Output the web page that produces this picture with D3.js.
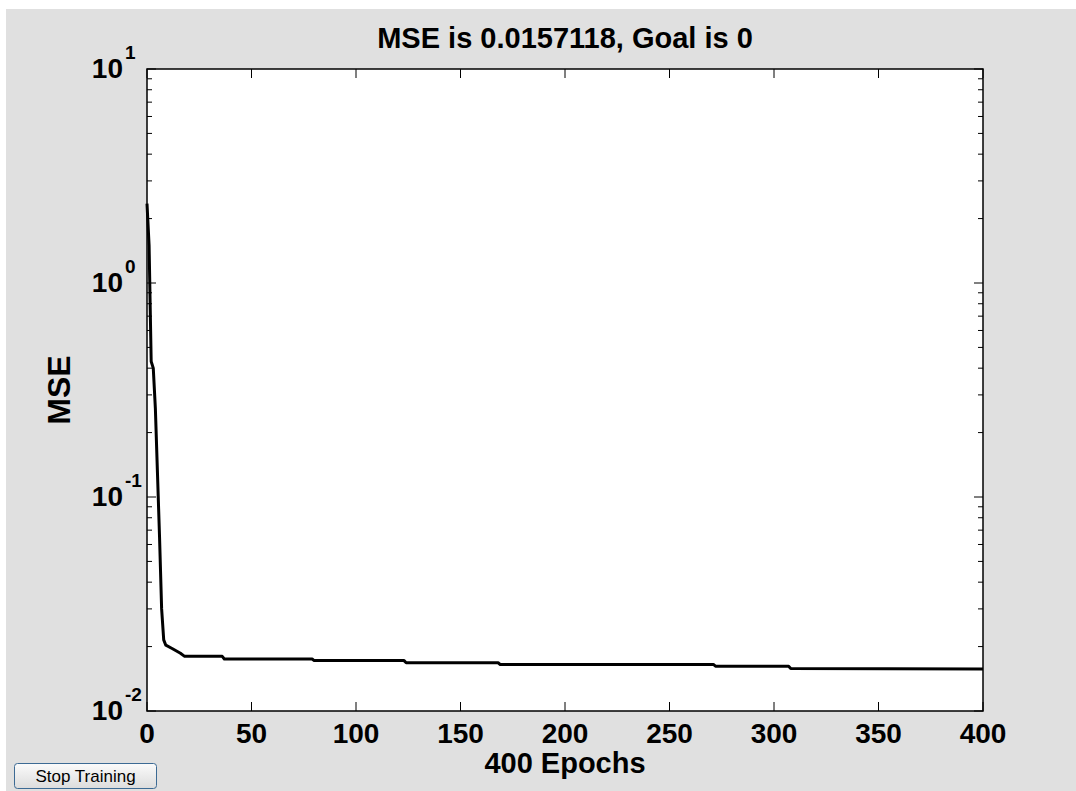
<!DOCTYPE html>
<html>
<head>
<meta charset="utf-8">
<script src="https://cdn.jsdelivr.net/npm/d3@7"></script>
<style>
  body { margin: 0; background: #fff; }
  svg text { font-family: "Liberation Sans", Arial, sans-serif; }
</style>
</head>
<body>
<div id="chart"></div>
<script>
// Training curve (epoch, MSE)
const epochs = [0, 1, 2, 3, 4, 5, 6, 7, 8, 9, 12, 16, 18, 36, 37, 79, 80, 123, 124, 168, 169, 271, 272, 307, 308, 400];
const mse = [2.35, 1.5, 0.43, 0.40, 0.26, 0.13, 0.065, 0.03, 0.0215, 0.0203, 0.0196, 0.0186, 0.0180, 0.0180, 0.0175, 0.0175, 0.0172, 0.0172, 0.0168, 0.0168, 0.0165, 0.0165, 0.0162, 0.0162, 0.0158, 0.0157];
const xTicks = [0, 50, 100, 150, 200, 250, 300, 350, 400];
const yDecades = [-2, -1, 0, 1];
const titleText = "MSE is 0.0157118, Goal is 0";

const W = 1076, H = 791;
const margin = {top: 69, right: 93, bottom: 80, left: 147};
const width = W - margin.left - margin.right;
const height = H - margin.top - margin.bottom;

const svg = d3.select("#chart")
    .append("svg")
    .attr("width", W)
    .attr("height", H);

// figure background
svg.append("rect")
    .attr("x", 6).attr("y", 9)
    .attr("width", W - 6).attr("height", H - 9)
    .attr("fill", "#e0e0e0");

const g = svg.append("g")
    .attr("transform", `translate(${margin.left},${margin.top})`);

const xScale = d3.scaleLinear().domain([0, 400]).range([0, width]);
const yScale = d3.scaleLog().domain([0.01, 10]).range([height, 0]);

g.append("rect")
    .attr("width", width).attr("height", height)
    .attr("fill", "#fff");

// ticks, drawn inward on all four sides
const minor = [];
yDecades.slice(0, 3).forEach(p => {
    for (let k = 2; k <= 9; k++) minor.push(k * Math.pow(10, p));
});

g.selectAll(".ymin")
    .data(minor)
    .enter().append("path")
    .attr("d", d => `M0,${yScale(d)}h5M${width},${yScale(d)}h-5`)
    .attr("stroke", "#000").attr("stroke-width", 1);

g.selectAll(".ymaj")
    .data(yDecades)
    .enter().append("path")
    .attr("d", d => `M0,${yScale(Math.pow(10, d))}h9M${width},${yScale(Math.pow(10, d))}h-9`)
    .attr("stroke", "#000").attr("stroke-width", 1);

g.selectAll(".xtick")
    .data(xTicks)
    .enter().append("path")
    .attr("d", d => `M${xScale(d)},${height}v-9M${xScale(d)},0v9`)
    .attr("stroke", "#000").attr("stroke-width", 1);

// the curve
const line = d3.line()
    .x((d, i) => xScale(epochs[i]))
    .y(d => yScale(d));

g.append("path")
    .datum(mse)
    .attr("d", line)
    .attr("fill", "none")
    .attr("stroke", "#000")
    .attr("stroke-width", 3)
    .attr("stroke-linejoin", "round");

// box
g.append("rect")
    .attr("width", width).attr("height", height)
    .attr("fill", "none")
    .attr("stroke", "#000").attr("stroke-width", 1.5);

// x tick labels
g.selectAll(".xlab")
    .data(xTicks)
    .enter().append("text")
    .attr("x", d => xScale(d))
    .attr("y", height + 32)
    .attr("text-anchor", "middle")
    .attr("font-size", 28)
    .attr("font-weight", "bold")
    .text(d => d);

// y tick labels: "10" with the exponent as superscript
g.selectAll(".ylab")
    .data(yDecades)
    .enter().append("text")
    .attr("x", -24)
    .attr("y", d => yScale(Math.pow(10, d)) + 9)
    .attr("text-anchor", "end")
    .attr("font-size", 28)
    .attr("font-weight", "bold")
    .text("10");

g.selectAll(".ysup")
    .data(yDecades)
    .enter().append("text")
    .attr("x", -22)
    .attr("y", d => yScale(Math.pow(10, d)) - 10)
    .attr("text-anchor", "start")
    .attr("font-size", 19)
    .attr("font-weight", "bold")
    .text(d => d);

// title and axis labels
g.append("text")
    .attr("x", width / 2)
    .attr("y", -21)
    .attr("text-anchor", "middle")
    .attr("font-size", 29)
    .attr("font-weight", "bold")
    .text(titleText);

g.append("text")
    .attr("x", width / 2)
    .attr("y", height + 62)
    .attr("text-anchor", "middle")
    .attr("font-size", 29)
    .attr("font-weight", "bold")
    .text("400 Epochs");

g.append("text")
    .attr("transform", "rotate(-90)")
    .attr("x", -height / 2)
    .attr("y", -77)
    .attr("text-anchor", "middle")
    .attr("font-size", 32)
    .attr("font-weight", "bold")
    .text("MSE");

// Stop Training button
const grad = svg.append("defs").append("linearGradient")
    .attr("id", "btn").attr("x1", 0).attr("y1", 0).attr("x2", 0).attr("y2", 1);
grad.append("stop").attr("offset", "0%").attr("stop-color", "#fbfbfb");
grad.append("stop").attr("offset", "100%").attr("stop-color", "#dcdcdc");

svg.append("rect")
    .attr("x", 14.5).attr("y", 763.5)
    .attr("width", 142).attr("height", 25)
    .attr("rx", 3)
    .attr("fill", "url(#btn)")
    .attr("stroke", "#3c6a94").attr("stroke-width", 1);

svg.append("text")
    .attr("x", 85.5).attr("y", 782)
    .attr("text-anchor", "middle")
    .attr("font-size", 17)
    .attr("fill", "#000")
    .text("Stop Training");
</script>
</body>
</html>
